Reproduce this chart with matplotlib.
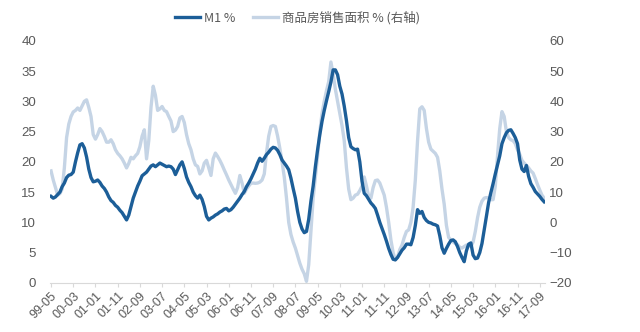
import matplotlib
matplotlib.use("Agg")
import matplotlib.pyplot as plt
import pandas as pd

plt.rcParams['font.family'] = ['Liberation Sans', 'Noto Sans CJK SC', 'DejaVu Sans']

# monthly, 1999-05 .. 2017-11
m1 = [14.3, 14.0, 14.2, 14.6, 15.0, 15.9, 16.5, 17.4, 17.8, 17.9,
      18.3, 20.0, 21.5, 22.8, 23.0, 22.3, 20.8, 18.8, 17.4, 16.7,
      16.8, 17.0, 16.6, 16.0, 15.6, 15.0, 14.2, 13.6, 13.3, 12.8,
      12.5, 12.0, 11.6, 11.0, 10.4, 11.2, 12.6, 14.0, 15.0, 16.0,
      16.8, 17.7, 18.0, 18.3, 18.8, 19.3, 19.5, 19.2, 19.5, 19.8,
      19.6, 19.4, 19.2, 19.3, 19.2, 18.8, 17.9, 18.7, 19.5, 20.0,
      18.9, 17.5, 16.6, 15.9, 15.0, 14.4, 14.0, 14.5, 13.8, 12.6,
      11.0, 10.4, 10.7, 10.9, 11.2, 11.4, 11.7, 11.9, 12.2, 12.3,
      11.9, 12.1, 12.5, 13.0, 13.5, 14.0, 14.6, 15.1, 15.9, 16.5,
      17.2, 18.0, 18.8, 19.8, 20.6, 20.1, 20.6, 21.2, 21.6, 22.1,
      22.4, 22.3, 21.9, 21.2, 20.3, 19.8, 19.3, 18.7, 17.3, 15.6,
      14.0, 11.8, 10.0, 8.9, 8.3, 8.5, 10.5, 13.5, 16.0, 19.2,
      22.0, 24.5, 26.7, 28.5, 30.1, 31.6, 33.2, 35.2, 35.2, 34.4,
      32.5, 31.2, 29.2, 26.8, 24.0, 22.5, 22.2, 22.0, 22.1, 20.0,
      16.8, 14.8, 14.4, 13.8, 13.2, 12.8, 12.3, 11.2, 10.0, 9.0,
      8.0, 6.9, 5.7, 4.7, 3.9, 3.8, 4.2, 4.8, 5.4, 5.8,
      6.4, 6.4, 6.3, 7.5, 9.5, 12.1, 11.5, 11.8, 10.8, 10.3,
      10.0, 9.9, 9.7, 9.6, 9.4, 7.8, 5.8, 4.9, 5.7, 6.4,
      7.0, 7.1, 6.8, 6.0, 5.0, 4.2, 3.5, 5.3, 6.4, 6.6,
      4.6, 4.0, 4.1, 5.0, 6.5, 8.7, 11.0, 13.3, 14.9, 16.4,
      18.0, 19.5, 21.0, 23.0, 24.0, 24.8, 25.2, 25.3, 24.7, 24.0,
      23.0, 20.3, 18.8, 18.4, 19.4, 17.6, 16.4, 15.8, 15.1, 14.7,
      14.3, 13.8, 13.4]

area = [17.0, 14.0, 11.5, 9.0, 9.5, 11.0, 18.0, 28.0, 32.5, 35.0,
        36.5, 37.0, 37.8, 37.0, 38.5, 40.0, 40.5, 38.0, 35.0, 29.0,
        27.5, 29.0, 31.0, 30.0, 28.4, 26.5, 26.5, 27.3, 26.0, 24.0,
        22.8, 22.0, 21.0, 19.6, 18.0, 19.5, 21.5, 21.0, 22.0, 22.8,
        25.0, 28.5, 30.6, 21.0, 27.0, 38.0, 45.0, 42.0, 37.0, 37.5,
        38.3, 37.0, 36.6, 35.0, 33.5, 30.0, 30.5, 31.7, 34.5, 35.0,
        33.0, 29.0, 26.0, 24.0, 21.0, 19.0, 18.5, 16.0, 17.0, 19.6,
        20.5, 18.0, 15.5, 21.0, 22.9, 21.8, 20.5, 19.0, 17.3, 15.7,
        14.0, 12.5, 11.0, 9.6, 11.5, 15.5, 13.0, 9.6, 11.0, 12.0,
        12.9, 13.0, 12.9, 13.0, 13.3, 14.0, 16.0, 23.0, 28.5, 31.7,
        32.0, 31.7, 28.5, 24.5, 20.0, 15.0, 8.0, 0.0, -4.0, -6.5,
        -8.5, -11.0, -13.5, -15.5, -17.0, -19.5, -14.0, -3.0, 8.0, 15.0,
        22.0, 30.0, 36.0, 40.0, 43.5, 46.5, 53.0, 49.0, 44.0, 40.0,
        36.0, 32.0, 27.0, 18.0, 11.0, 7.5, 8.0, 9.0, 9.3, 10.5,
        12.0, 15.0, 12.0, 8.5, 8.0, 11.5, 13.8, 14.0, 13.0, 11.0,
        9.0, 5.0, 0.0, -5.8, -10.0, -12.4, -11.5, -9.0, -7.5, -5.0,
        -3.0, -2.5, 0.0, 5.0, 14.0, 27.0, 37.5, 38.2, 37.0, 31.0,
        26.5, 24.2, 23.5, 22.8, 21.5, 17.0, 11.0, 6.0, -1.0, -5.0,
        -5.8, -6.5, -7.0, -7.4, -8.2, -8.5, -8.0, -7.5, -7.6, -8.0,
        -6.5, -3.0, 1.5, 5.0, 7.0, 8.0, 8.2, 8.0, 7.5, 7.5,
        12.0, 22.0, 31.0, 36.6, 35.0, 30.0, 28.0, 27.3, 27.0, 26.0,
        24.0, 22.5, 20.5, 19.6, 18.8, 18.0, 17.0, 16.3, 14.5, 12.5,
        10.7, 9.0, 8.0]

dates = pd.date_range('1999-05', periods=len(m1), freq='MS')
labels = [d.strftime('%y-%m') for d in dates]
tick_step = 10

left_ticks = [0, 5, 10, 15, 20, 25, 30, 35, 40]
right_ticks = [-20, -10, 0, 10, 20, 30, 40, 50, 60]

dark = '#1c5e98'
light = '#c5d4e5'
grey = '#595959'

fig = plt.figure(figsize=(6.4, 3.32), dpi=100)
ax = fig.add_axes([0.078, 0.148, 0.774, 0.729])
ax2 = ax.twinx()

x = list(range(len(m1)))
l2, = ax2.plot(x, area, color=light, lw=2.4, solid_joinstyle='round',
               label='商品房销售面积 % (右轴)')
l1, = ax.plot(x, m1, color=dark, lw=2.4, solid_joinstyle='round', label='M1 %')
ax.set_zorder(ax2.get_zorder() + 1)
ax.patch.set_visible(False)

ax.set_ylim(0, 40)
ax.set_yticks(left_ticks)
ax2.set_ylim(-20, 60)
ax2.set_yticks(right_ticks)
ax.set_xlim(-0.5, len(m1) - 0.5)

tpos = list(range(0, len(m1), tick_step))
ax.set_xticks(tpos)
ax.set_xticklabels([labels[i] for i in tpos], rotation=45, ha='right',
                   rotation_mode='anchor', fontsize=9, color=grey)

for a in (ax, ax2):
    for s in a.spines.values():
        s.set_visible(False)
ax.spines['bottom'].set_visible(True)
ax.spines['bottom'].set_color('#d9d9d9')
ax.tick_params(axis='x', length=3, color='#d9d9d9', pad=2)
ax.tick_params(axis='y', length=0, labelsize=9.5, labelcolor=grey, pad=10)
ax2.tick_params(axis='y', length=0, labelsize=9.5, labelcolor=grey, pad=3)

leg = fig.legend(handles=[l1, l2], loc='upper center', bbox_to_anchor=(0.465, 1.0),
                 ncol=2, frameon=False, fontsize=9, handlelength=2.0,
                 columnspacing=1.4, handletextpad=0.3)
for t in leg.get_texts():
    t.set_color(grey)
    t.set_family(['Noto Sans CJK SC', 'DejaVu Sans'])

fig.savefig('out.png', dpi=100)
